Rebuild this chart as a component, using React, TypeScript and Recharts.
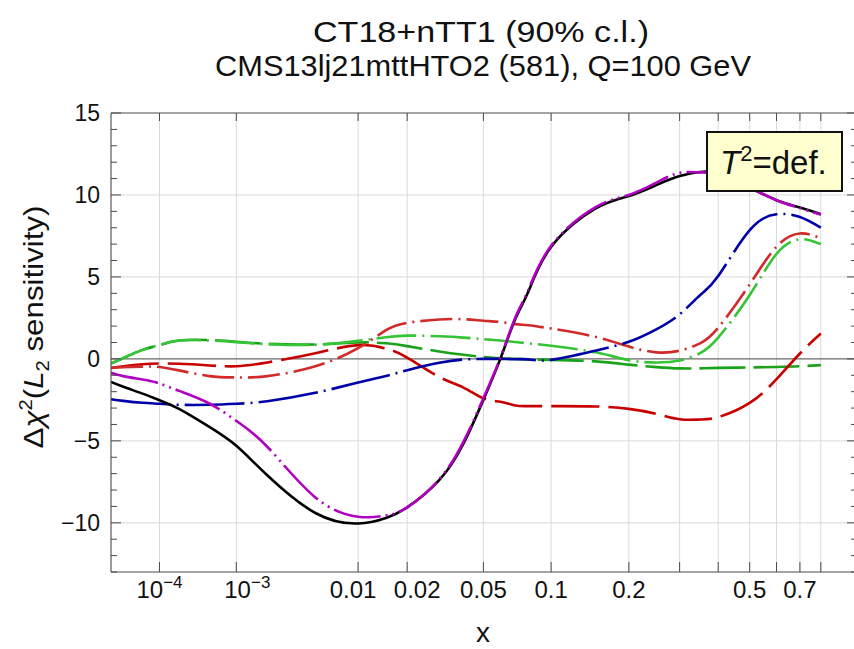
import { LineChart, Line, XAxis, YAxis, CartesianGrid, ReferenceLine } from 'recharts';

const xValues = [1e-5, 2e-5, 5e-5, 1e-4, 2e-4, 5e-4, 1e-3, 2e-3, 5e-3, 0.01, 0.015, 0.02, 0.03, 0.04, 0.05, 0.06, 0.07, 0.08, 0.1, 0.15, 0.2, 0.25, 0.3, 0.35, 0.4, 0.5, 0.6, 0.7, 0.8];

// Δχ² (L2 sensitivity) per flavour
const blackSeries = [-1.40, -1.70, -2.12, -2.52, -3.05, -4.15, -5.30, -7.10, -9.40, -10.04, -9.70, -9.06, -7.40, -5.16, -2.50, 0.0, 2.40, 4.09, 6.83, 9.17, 9.94, 10.60, 11.15, 11.40, 11.30, 10.45, 9.68, 9.23, 8.82];
const magentaSeries = [-0.85, -1.05, -1.26, -1.50, -1.95, -2.72, -3.78, -5.36, -8.45, -9.63, -9.55, -9.06, -7.35, -5.05, -2.40, 0.05, 2.50, 4.20, 6.90, 9.25, 10.00, 10.75, 11.35, 11.38, 11.25, 10.45, 9.68, 9.20, 8.80];
const blueSeries = [-2.46, -2.56, -2.68, -2.74, -2.80, -2.80, -2.74, -2.58, -2.07, -1.44, -1.04, -0.69, -0.24, -0.04, 0.0, 0.0, -0.02, -0.03, -0.06, 0.50, 1.04, 1.80, 2.72, 3.88, 5.05, 7.85, 8.82, 8.66, 8.01];
const redDashSeries = [-0.55, -0.45, -0.33, -0.28, -0.30, -0.40, -0.45, -0.22, 0.35, 0.84, 0.63, 0.08, -1.10, -1.75, -2.41, -2.62, -2.84, -2.88, -2.88, -2.90, -3.05, -3.35, -3.68, -3.70, -3.55, -2.68, -1.24, 0.33, 1.55];
const redDotSeries = [-0.55, -0.50, -0.47, -0.49, -0.70, -1.05, -1.13, -1.05, -0.45, 0.65, 1.75, 2.20, 2.40, 2.42, 2.33, 2.25, 2.12, 2.05, 1.85, 1.35, 0.75, 0.40, 0.50, 0.95, 1.90, 4.55, 6.85, 7.65, 7.35];
const greenDashSeries = [-0.28, 0.05, 0.55, 0.84, 1.12, 1.15, 1.05, 0.92, 0.88, 1.00, 0.95, 0.78, 0.45, 0.25, 0.12, 0.04, 0.0, -0.03, -0.06, -0.15, -0.35, -0.50, -0.58, -0.58, -0.55, -0.52, -0.49, -0.45, -0.38];
const greenDotSeries = [-0.28, 0.05, 0.55, 0.86, 1.12, 1.12, 1.02, 0.90, 0.86, 1.10, 1.32, 1.42, 1.38, 1.30, 1.20, 1.12, 1.03, 0.95, 0.80, 0.40, -0.08, -0.22, -0.10, 0.35, 1.30, 3.90, 6.40, 7.30, 7.00];

// axis ticks
const xTickValues = [1e-4, 1e-3, 0.01, 0.02, 0.05, 0.1, 0.2, 0.3, 0.4, 0.5, 0.6, 0.7, 0.8];
const xTickLabels = ['10^−4', '10^−3', '0.01', '0.02', '0.05', '0.1', '0.2', '', '', '0.5', '', '0.7', ''];
// labels in the original are nudged sideways so they don't run into each other
const xLabelShift = [0, 11, -5, 10, 0, 0, 0, 0, 0, 0, 0, 0, 0];
const yTicks = [-13, -12, -11, -10, -9, -8, -7, -6, -5, -4, -3, -2, -1, 0, 1, 2, 3, 4, 5, 6, 7, 8, 9, 10, 11, 12, 13, 14, 15];
const yGrid = [-10, -5, 5, 10];

// the x axis of the original is linear in x^0.2
const toT = (x: number) => Math.pow(x, 0.2);

const data = xValues.map((x, i) => ({
    t: toT(x),
    black: blackSeries[i],
    magenta: magentaSeries[i],
    blue: blueSeries[i],
    redDash: redDashSeries[i],
    redDot: redDotSeries[i],
    greenDash: greenDashSeries[i],
    greenDot: greenDotSeries[i],
}));

const FONT = '"Liberation Sans", Arial, Helvetica, sans-serif';
const frame = '#4a4a4a';

const labelIndex = (t: number) => {
    let best = 0;
    xTickValues.forEach((v, i) => {
        if (Math.abs(toT(v) - t) < Math.abs(toT(xTickValues[best]) - t)) best = i;
    });
    return best;
};

const XTickBottom = (props: any) => {
    const { x, y, payload } = props;
    const idx = labelIndex(payload.value);
    const label = xTickLabels[idx];
    let content: any = label;
    if (label.includes('^')) {
        const [base, exp] = label.split('^');
        content = <><tspan>{base}</tspan><tspan dy={-10} fontSize={17}>{exp}</tspan></>;
    }
    return (
        <g>
            <line x1={x} x2={x} y1={y} y2={y - 10} stroke={frame} strokeWidth={1} />
            {label ? <text x={x + xLabelShift[idx]} y={y + 26} textAnchor="middle" fontSize={24} fontFamily={FONT} fill="#111">{content}</text> : null}
        </g>
    );
};

const XTickTop = (props: any) => {
    const { x, y } = props;
    return <line x1={x} x2={x} y1={y} y2={y + 8} stroke={frame} strokeWidth={1} />;
};

const YTickLeft = (props: any) => {
    const { x, y, payload } = props;
    const v = payload.value;
    const major = v % 5 === 0;
    return (
        <g>
            <line x1={x} x2={x + (major ? 10 : 6)} y1={y} y2={y} stroke={frame} strokeWidth={1} />
            {major ? <text x={x - 11} y={y + 8} textAnchor="end" fontSize={23} fontFamily={FONT} fill="#111">{v < 0 ? '−' + Math.abs(v) : v}</text> : null}
        </g>
    );
};

const YTickRight = (props: any) => {
    const { x, y, payload } = props;
    const major = payload.value % 5 === 0;
    return <line x1={x} x2={x - (major ? 10 : 6)} y1={y} y2={y} stroke={frame} strokeWidth={1} />;
};

export default function App() {
    const common = { xAxisId: 'b', yAxisId: 'l', type: 'natural' as const, dot: false, activeDot: false, isAnimationActive: false };
    return (
        <div style={{ position: 'fixed', left: 0, top: 0, width: 854, height: 649, overflow: 'hidden', background: '#fff', fontFamily: FONT }}>
            <LineChart width={880} height={649} data={data} margin={{ top: 112, right: 22, left: 51, bottom: 37 }}>
                <CartesianGrid xAxisId="b" yAxisId="l" stroke="#dadada" strokeWidth={1} horizontalValues={yGrid} />
                <XAxis xAxisId="b" dataKey="t" type="number" domain={[0.1, 1]} allowDataOverflow ticks={xTickValues.map(toT)} interval={0}
                    height={40} tickSize={0} tickMargin={0} tickLine={false} tick={<XTickBottom />} axisLine={{ stroke: frame }} />
                <XAxis xAxisId="t" orientation="top" dataKey="t" type="number" domain={[0.1, 1]} allowDataOverflow ticks={xTickValues.map(toT)} interval={0}
                    height={1} tickSize={0} tickMargin={0} tickLine={false} tick={<XTickTop />} axisLine={{ stroke: frame }} />
                <YAxis yAxisId="l" type="number" domain={[-13, 15]} allowDataOverflow ticks={yTicks} interval={0}
                    width={60} tickSize={0} tickMargin={0} tickLine={false} tick={<YTickLeft />} axisLine={{ stroke: frame }} />
                <YAxis yAxisId="r" orientation="right" type="number" domain={[-13, 15]} allowDataOverflow ticks={yTicks} interval={0}
                    width={1} tickSize={0} tickMargin={0} tickLine={false} tick={<YTickRight />} axisLine={{ stroke: frame }} />
                <ReferenceLine xAxisId="b" yAxisId="l" y={0} stroke="#6a6a6a" strokeWidth={1.2} />
                <Line {...common} dataKey="greenDash" stroke="#1aa31a" strokeWidth={2.6} strokeDasharray="46 8" />
                <Line {...common} dataKey="greenDot" stroke="#35c435" strokeWidth={2.6} strokeDasharray="40 6 2 6" />
                <Line {...common} dataKey="redDash" stroke="#c80000" strokeWidth={2.6} strokeDasharray="48 9" />
                <Line {...common} dataKey="redDot" stroke="#d02a2a" strokeWidth={2.6} strokeDasharray="32 6 2 6" />
                <Line {...common} dataKey="blue" stroke="#0000a8" strokeWidth={2.6} strokeDasharray="60 6 2 6" />
                <Line {...common} dataKey="black" stroke="#000000" strokeWidth={2.6} />
                <Line {...common} dataKey="magenta" stroke="#b000c0" strokeWidth={2.6} strokeDasharray="48 5 2 5 2 5" />
            </LineChart>
            <svg width={854} height={649} style={{ position: 'absolute', left: 0, top: 0, pointerEvents: 'none' }}>
                <g fontFamily={FONT} fill="#111">
                    <text x={481} y={42} textAnchor="middle" fontSize={29} textLength={336} lengthAdjust="spacingAndGlyphs">CT18+nTT1 (90% c.l.)</text>
                    <text x={483} y={76} textAnchor="middle" fontSize={29} textLength={536} lengthAdjust="spacingAndGlyphs">CMS13lj21mttHTO2 (581), Q=100 GeV</text>
                    <text x={483} y={642} textAnchor="middle" fontSize={28}>x</text>
                    <text transform="rotate(-90)" x={-327} y={43} textAnchor="middle" fontSize={28} textLength={243} lengthAdjust="spacingAndGlyphs">
                        <tspan>Δ</tspan><tspan fontStyle="italic">χ</tspan><tspan dy={-11} fontSize={18}>2</tspan><tspan dy={11}>(</tspan><tspan fontStyle="italic">L</tspan><tspan dy={6} fontSize={18}>2</tspan><tspan dy={-6}> sensitivity)</tspan>
                    </text>
                </g>
                <rect x={707} y={132} width={135} height={59} fill="#ffffd0" stroke="#111" strokeWidth={2} />
                <text x={720} y={174} fontSize={33} fontFamily={FONT} fill="#111">
                    <tspan fontStyle="italic">T</tspan><tspan dy={-13} fontSize={22}>2</tspan><tspan dy={13}>=def.</tspan>
                </text>
            </svg>
        </div>
    );
}
